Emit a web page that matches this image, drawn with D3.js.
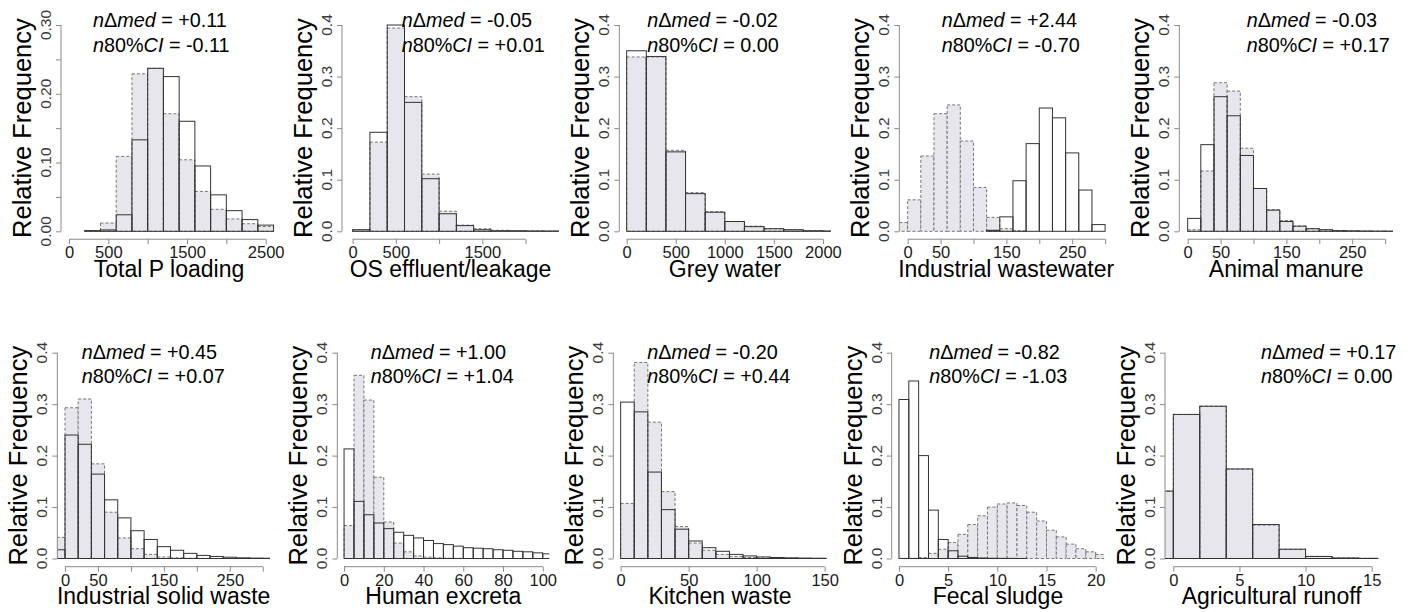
<!DOCTYPE html>
<html>
<head>
<meta charset="utf-8">
<script src="https://cdn.jsdelivr.net/npm/d3@7"></script>
<style>
  body { margin: 0; background: #fff; }
  text { font-family: "Liberation Sans", Arial, sans-serif; }
</style>
</head>
<body>
<div id="chart"></div>
<script>
// chart is 1412 x 612, two rows of five histograms

const titles = ['Total P loading', 'OS effluent/leakage', 'Grey water', 'Industrial wastewater', 'Animal manure',
  'Industrial solid waste', 'Human excreta', 'Kitchen waste', 'Fecal sludge', 'Agricultural runoff']

// histogram breaks: first break and bin width
const binStarts = [200, 0, 0, -20, 0, -20, 0, 0, 0, -2]
const binWidths = [200, 200, 200, 20, 20, 20, 5, 10, 1, 2]

// shaded histograms with dashed border
const shadedFreq = [
  [0.001, 0.012, 0.109, 0.229, 0.237, 0.171, 0.104, 0.058, 0.032, 0.018, 0.011, 0.007],
  [0.003, 0.173, 0.394, 0.261, 0.111, 0.039, 0.012, 0.005, 0.002, 0.001, 0.001, 0.0005],
  [0.338, 0.338, 0.157, 0.075, 0.038, 0.019, 0.010, 0.005, 0.003, 0.0015, 0.0006],
  [0.017, 0.061, 0.146, 0.228, 0.245, 0.175, 0.085, 0.027, 0.005, 0.001, 0, 0, 0, 0, 0, 0],
  [0.003, 0.117, 0.288, 0.272, 0.161, 0.083, 0.042, 0.021, 0.010, 0.005, 0.003, 0.001, 0.0008, 0.0005, 0.0003, 0.0002],
  [0.041, 0.293, 0.310, 0.184, 0.090, 0.040, 0.019, 0.008, 0.003, 0.0013, 0.0005, 0.0003, 0, 0, 0, 0, 0],
  [0.064, 0.356, 0.308, 0.158, 0.071, 0.030, 0.013, 0.005, 0.0026, 0.0013, 0.0006, 0.0003, 0, 0, 0, 0, 0, 0, 0, 0, 0],
  [0.107, 0.381, 0.265, 0.130, 0.062, 0.030, 0.016, 0.008, 0.004, 0.002, 0.001, 0.0005, 0.0003, 0.0002, 0.0001, 0],
  [0.0003, 0.0005, 0.002, 0.010, 0.018, 0.031, 0.047, 0.066, 0.083, 0.100, 0.106, 0.108, 0.103, 0.090, 0.073, 0.055, 0.042, 0.028, 0.019, 0.013, 0.008],
  [0.131, 0.280, 0.296, 0.174, 0.065, 0.018, 0.004, 0.001, 0.0003]
]

// open histograms with solid border
const openFreq = [
  [0.001, 0.002, 0.024, 0.133, 0.237, 0.225, 0.160, 0.095, 0.053, 0.030, 0.017, 0.009],
  [0.003, 0.192, 0.400, 0.250, 0.102, 0.034, 0.011, 0.003, 0.001, 0.001, 0.0005, 0.0005],
  [0.350, 0.339, 0.154, 0.073, 0.037, 0.019, 0.009, 0.005, 0.003, 0.001, 0.0005],
  [0, 0, 0, 0, 0, 0, 0, 0.002, 0.028, 0.098, 0.170, 0.239, 0.220, 0.152, 0.080, 0.013],
  [0.025, 0.168, 0.261, 0.224, 0.147, 0.083, 0.041, 0.019, 0.010, 0.005, 0.003, 0.0013, 0.0008, 0.0005, 0.0003, 0.0002],
  [0.017, 0.240, 0.222, 0.164, 0.114, 0.079, 0.054, 0.037, 0.023, 0.016, 0.010, 0.006, 0.004, 0.0025, 0.0013, 0.0008, 0.0005],
  [0.213, 0.111, 0.085, 0.069, 0.058, 0.051, 0.045, 0.040, 0.035, 0.029, 0.027, 0.024, 0.021, 0.020, 0.019, 0.017, 0.016, 0.014, 0.013, 0.011, 0.009],
  [0.304, 0.285, 0.168, 0.095, 0.057, 0.034, 0.021, 0.014, 0.008, 0.005, 0.003, 0.002, 0.0013, 0.0008, 0.0005, 0.0003],
  [0.309, 0.345, 0.200, 0.094, 0.037, 0.015, 0.0045, 0.002, 0.001, 0.0005, 0.0003, 0.0002, 0.0001, 0, 0, 0, 0, 0, 0, 0, 0],
  [0.131, 0.280, 0.296, 0.174, 0.066, 0.018, 0.004, 0.001, 0.0003]
]

const medDiff = ['+0.11', '-0.05', '-0.02', '+2.44', '-0.03', '+0.45', '+1.00', '-0.20', '-0.82', '+0.17']
const ciDiff = ['-0.11', '+0.01', '0.00', '-0.70', '+0.17', '+0.07', '+1.04', '+0.44', '-1.03', '0.00']

const xTicks = [
  [0, 500, 1000, 1500, 2000, 2500],
  [0, 500, 1000, 1500, 2000],
  [0, 500, 1000, 1500, 2000],
  [0, 50, 100, 150, 200, 250, 300],
  [0, 50, 100, 150, 200, 250, 300],
  [0, 50, 100, 150, 200, 250, 300],
  [0, 20, 40, 60, 80, 100],
  [0, 50, 100, 150],
  [0, 5, 10, 15, 20],
  [0, 5, 10, 15]
]
// R drops labels that would overlap
const xTickLabels = [
  [0, 500, 1500, 2500],
  [0, 500, 1500],
  [0, 500, 1000, 1500, 2000],
  [0, 50, 150, 250],
  [0, 50, 150, 250],
  [0, 50, 150, 250],
  [0, 20, 40, 60, 80, 100],
  [0, 50, 100, 150],
  [0, 5, 10, 15, 20],
  [0, 5, 10, 15]
]

const yTicks = [
  [0, 0.05, 0.10, 0.15, 0.20, 0.25, 0.30],
  [0, 0.1, 0.2, 0.3, 0.4]
]
const yTickLabels = [
  ['0.00', '0.10', '0.20', '0.30'],
  ['0.0', '0.1', '0.2', '0.3', '0.4']
]

// ---- layout (pixels) ----
let width = 1412
let height = 612

let plotLeft = [61, 342, 619.3, 899.3, 1179.3, 57.3, 337.3, 613.3, 891.7, 1165]
let plotRight = [277, 559, 830.7, 1113, 1393, 270, 549.3, 826.7, 1104.3, 1378.3]
let xDomains = [[-102, 2644], [-123, 2387], [-75, 2079], [-12.7, 312], [-12.7, 312],
  [-11.7, 311], [-3.4, 103.3], [-5.4, 151.5], [-0.74, 20.88], [-0.63, 15.5]]

let rowZeroY = [231.3, 558.5]
let rowTopY = [25, 352.7]
let rowAxisY = [239.2, 566.7]
let rowTextY = [[27.3, 51.7], [359, 383.3]]
let textX = [93, 401.7, 647.3, 941.7, 1246.7, 81.7, 370.7, 647.3, 929.3, 1261]

let tickLen = 5
let shadeColor = '#e6e6ec'

let svg = d3.select('#chart').append('svg')
  .attr('width', width)
  .attr('height', height)

titles.forEach((title, i) => {
  let row = i < 5 ? 0 : 1
  let yIdx = i === 0 ? 0 : 1
  let yt = yTicks[yIdx]
  let yMax = yt[yt.length - 1]

  let x = d3.scaleLinear().domain(xDomains[i]).range([plotLeft[i], plotRight[i]])
  let y = d3.scaleLinear().domain([0, yMax]).range([rowZeroY[row], rowTopY[row]])

  let g = svg.append('g').attr('class', 'panel')

  svg.append('clipPath')
    .attr('id', 'clip' + i)
    .append('rect')
    .attr('x', plotLeft[i])
    .attr('y', rowTopY[row] - 10)
    .attr('width', plotRight[i] - plotLeft[i])
    .attr('height', rowAxisY[row] - rowTopY[row] + 10)

  let bars = g.append('g').attr('clip-path', `url(#clip${i})`)

  let toBins = vals => vals.map((v, k) => ({
    x0: binStarts[i] + k * binWidths[i],
    x1: binStarts[i] + (k + 1) * binWidths[i],
    v: v
  })).filter(d => d.v > 0)

  bars.selectAll('.shaded')
    .data(toBins(shadedFreq[i]))
    .join('rect')
    .attr('class', 'shaded')
    .attr('x', d => x(d.x0))
    .attr('width', d => x(d.x1) - x(d.x0))
    .attr('y', d => y(d.v))
    .attr('height', d => y(0) - y(d.v))
    .attr('fill', shadeColor)
    .attr('stroke', '#777')
    .attr('stroke-width', 1)
    .attr('stroke-dasharray', '3,2')

  bars.selectAll('.open')
    .data(toBins(openFreq[i]))
    .join('rect')
    .attr('class', 'open')
    .attr('x', d => x(d.x0))
    .attr('width', d => x(d.x1) - x(d.x0))
    .attr('y', d => y(d.v))
    .attr('height', d => y(0) - y(d.v))
    .attr('fill', 'none')
    .attr('stroke', '#333')
    .attr('stroke-width', 1)

  // x axis, R style: line spans first to last tick
  let xAxis = d3.axisBottom(x)
    .tickValues(xTicks[i])
    .tickSize(tickLen)
    .tickPadding(2)
    .tickFormat(d => xTickLabels[i].includes(d) ? d : '')
  let gx = g.append('g')
    .attr('transform', `translate(0,${rowAxisY[row]})`)
    .call(xAxis)
  gx.select('.domain')
    .attr('d', `M${x(xTicks[i][0])},0H${x(xTicks[i][xTicks[i].length - 1])}`)
    .attr('stroke', '#8a8a8a')
  gx.selectAll('.tick line').attr('stroke', '#8a8a8a')
  gx.selectAll('.tick text')
    .attr('font-size', 16.5)
    .attr('fill', '#1a1a1a')
    .attr('dy', null)
    .attr('y', 19)
    .attr('font-family', '"Liberation Sans", Arial, sans-serif')

  // y axis with labels turned along the axis
  let yAxis = d3.axisLeft(y)
    .tickValues(yt)
    .tickSize(tickLen)
    .tickFormat('')
  let gy = g.append('g')
    .attr('transform', `translate(${plotLeft[i]},0)`)
    .call(yAxis)
  gy.select('.domain')
    .attr('d', `M0,${y(0)}V${y(yMax)}`)
    .attr('stroke', '#8a8a8a')
  gy.selectAll('.tick line').attr('stroke', '#8a8a8a')

  gy.selectAll('.ylab')
    .data(yTickLabels[yIdx])
    .join('text')
    .attr('class', 'ylab')
    .attr('transform', d => `translate(-10,${y(+d)}) rotate(-90)`)
    .attr('text-anchor', 'middle')
    .attr('font-size', 15.5)
    .attr('fill', '#3a3a3a')
    .text(d => d)

  // axis titles
  g.append('text')
    .attr('x', (plotLeft[i] + plotRight[i]) / 2)
    .attr('y', rowAxisY[row] + 37.5)
    .attr('text-anchor', 'middle')
    .attr('font-size', 23)
    .attr('fill', '#000')
    .text(title)

  let midY = (rowTopY[row] - 8 + rowAxisY[row]) / 2
  g.append('text')
    .attr('transform', `translate(${plotLeft[i] - 30},${midY}) rotate(-90)`)
    .attr('text-anchor', 'middle')
    .attr('font-size', 25.5)
    .attr('fill', '#000')
    .text('Relative Frequency')

  // annotations
  let t1 = g.append('text')
    .attr('x', textX[i])
    .attr('y', rowTextY[row][0])
    .attr('font-size', 19.8)
    .attr('fill', '#000')
  t1.append('tspan').attr('font-style', 'italic').text('n')
  t1.append('tspan').text('\u0394')
  t1.append('tspan').attr('font-style', 'italic').text('med')
  t1.append('tspan').text(' = ' + medDiff[i])

  let t2 = g.append('text')
    .attr('x', textX[i])
    .attr('y', rowTextY[row][1])
    .attr('font-size', 19.8)
    .attr('fill', '#000')
  t2.append('tspan').attr('font-style', 'italic').text('n')
  t2.append('tspan').text('80%')
  t2.append('tspan').attr('font-style', 'italic').text('CI')
  t2.append('tspan').text(' = ' + ciDiff[i])
})
</script>
</body>
</html>
